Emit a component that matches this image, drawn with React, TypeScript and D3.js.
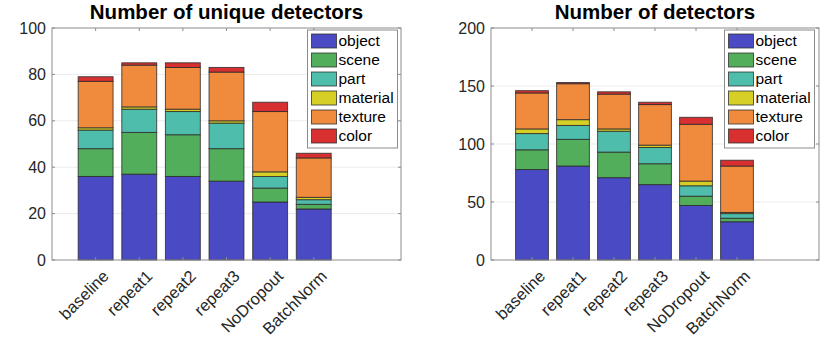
import React, { useEffect, useRef } from "react";
import * as d3 from "d3";

const categories = ["baseline", "repeat1", "repeat2", "repeat3", "NoDropout", "BatchNorm"];
const seriesNames = ["object", "scene", "part", "material", "texture", "color"];
const colors = ["#4a4ac4", "#52ae5a", "#4fbdab", "#d6d026", "#f08a3c", "#d83030"];

// unique detectors, one array per series
const uniqueObject = [36, 37, 36, 34, 25, 22];
const uniqueScene = [12, 18, 18, 14, 6, 2];
const uniquePart = [8, 10, 10, 11, 5, 2];
const uniqueMaterial = [1, 1, 1, 1, 2, 1];
const uniqueTexture = [20, 18, 18, 21, 26, 17];
const uniqueColor = [2, 1, 2, 2, 4, 2];

// all detectors
const allObject = [78, 81, 71, 65, 47, 33];
const allScene = [17, 23, 22, 18, 8, 3];
const allPart = [14, 12, 18, 14, 9, 4];
const allMaterial = [4, 5, 2, 2, 4, 1];
const allTexture = [31, 31, 30, 35, 49, 40];
const allColor = [2, 1, 2, 2, 6, 5];

const uniqueTicks = [0, 20, 40, 60, 80, 100];
const allTicks = [0, 50, 100, 150, 200];

const FONT = "'Liberation Sans', Arial, Helvetica, sans-serif";

function drawPanel(
  g: d3.Selection<SVGGElement, unknown, null, undefined>,
  opts: {
    x0: number; x1: number; y0: number; y1: number;
    title: string; series: number[][]; yMax: number; ticks: number[];
    legendX: number;
  }
) {
  const { x0, x1, y0, y1 } = opts;
  const x = d3.scaleLinear().domain([0, 8]).range([x0, x1]);
  const y = d3.scaleLinear().domain([0, opts.yMax]).range([y1, y0]);
  const axisCol = "#8c8c8c";

  // grid
  g.selectAll(".grid")
    .data(opts.ticks.slice(1, -1))
    .enter()
    .append("line")
    .attr("x1", x0).attr("x2", x1)
    .attr("y1", (d) => y(d)).attr("y2", (d) => y(d))
    .attr("stroke", "#ebebeb").attr("stroke-width", 1);

  // stacked bars
  const rows = categories.map((c, i) => {
    const r: any = { cat: c, idx: i + 1 };
    seriesNames.forEach((s, k) => (r[s] = opts.series[k][i]));
    return r;
  });
  const stack = d3.stack<any>().keys(seriesNames)(rows);
  const bw = (x(1) - x(0)) * 0.8;
  stack.forEach((layer, k) => {
    g.selectAll(".bar" + k)
      .data(layer)
      .enter()
      .append("rect")
      .attr("x", (d) => x(d.data.idx) - bw / 2)
      .attr("width", bw)
      .attr("y", (d) => y(d[1]))
      .attr("height", (d) => y(d[0]) - y(d[1]))
      .attr("fill", colors[k])
      .attr("stroke", "#2a2a2a")
      .attr("stroke-opacity", 0.8)
      .attr("stroke-width", 1);
  });

  // box
  g.append("rect")
    .attr("x", x0).attr("y", y0)
    .attr("width", x1 - x0).attr("height", y1 - y0)
    .attr("fill", "none").attr("stroke", axisCol).attr("stroke-width", 1);

  // ticks
  categories.forEach((_, i) => {
    const xx = x(i + 1);
    g.append("line").attr("x1", xx).attr("x2", xx).attr("y1", y1).attr("y2", y1 - 3).attr("stroke", axisCol);
    g.append("line").attr("x1", xx).attr("x2", xx).attr("y1", y0).attr("y2", y0 + 3).attr("stroke", axisCol);
  });
  opts.ticks.forEach((t) => {
    g.append("line").attr("x1", x0).attr("x2", x0 + 3).attr("y1", y(t)).attr("y2", y(t)).attr("stroke", axisCol);
    g.append("line").attr("x1", x1).attr("x2", x1 - 3).attr("y1", y(t)).attr("y2", y(t)).attr("stroke", axisCol);
    g.append("text")
      .attr("x", x0 - 6).attr("y", y(t))
      .attr("dy", "0.35em")
      .attr("text-anchor", "end")
      .attr("font-family", FONT).attr("font-size", 16)
      .attr("fill", "#262626")
      .text(t);
  });

  // x labels
  categories.forEach((c, i) => {
    g.append("text")
      .attr("transform", `translate(${x(i + 1) + 6},${y1 + 9}) rotate(-45)`)
      .attr("text-anchor", "end")
      .attr("dy", "0.7em")
      .attr("font-family", FONT).attr("font-size", 16.5)
      .attr("fill", "#262626")
      .text(c);
  });

  // title
  g.append("text")
    .attr("x", (x0 + x1) / 2).attr("y", y0 - 9)
    .attr("text-anchor", "middle")
    .attr("font-family", FONT).attr("font-size", 20.5).attr("font-weight", "bold")
    .attr("fill", "#000")
    .text(opts.title);

  // legend
  const lx = opts.legendX, ly = y0 + 2;
  g.append("rect")
    .attr("x", lx).attr("y", ly).attr("width", 90).attr("height", 118)
    .attr("fill", "#fff").attr("stroke", "#8c8c8c");
  seriesNames.forEach((s, k) => {
    const ry = ly + 4 + k * 19;
    g.append("rect")
      .attr("x", lx + 4).attr("y", ry)
      .attr("width", 25).attr("height", 14)
      .attr("fill", colors[k]).attr("stroke", "#333").attr("stroke-opacity", 0.8);
    g.append("text")
      .attr("x", lx + 31).attr("y", ry + 7)
      .attr("dy", "0.35em")
      .attr("font-family", FONT).attr("font-size", 15.5)
      .attr("fill", "#000")
      .text(s);
  });
}

export default function App() {
  const ref = useRef<SVGSVGElement>(null);

  useEffect(() => {
    const svg = d3.select(ref.current);
    svg.selectAll("*").remove();
    drawPanel(svg.append("g"), {
      x0: 52, x1: 401, y0: 28, y1: 260,
      title: "Number of unique detectors",
      series: [uniqueObject, uniqueScene, uniquePart, uniqueMaterial, uniqueTexture, uniqueColor],
      yMax: 100, ticks: uniqueTicks, legendX: 307.5,
    });
    drawPanel(svg.append("g"), {
      x0: 491, x1: 819, y0: 28, y1: 260,
      title: "Number of detectors",
      series: [allObject, allScene, allPart, allMaterial, allTexture, allColor],
      yMax: 200, ticks: allTicks, legendX: 724.5,
    });
  }, []);

  return (
    <svg
      ref={ref}
      width={830}
      height={340}
      style={{ position: "absolute", left: 0, top: 0, background: "#fff" }}
    />
  );
}
